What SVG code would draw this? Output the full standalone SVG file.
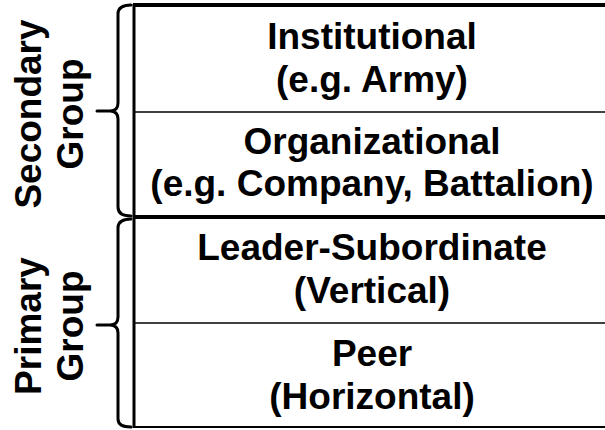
<svg xmlns="http://www.w3.org/2000/svg" width="605" height="430" viewBox="0 0 605 430">
<style>
.t{font-family:"Liberation Sans",Arial,sans-serif;font-weight:bold;font-size:37px;fill:#000;text-anchor:middle}
.thick{stroke:#000;stroke-width:4;fill:none}
.thin{stroke:#000;stroke-width:1.5;fill:none}
.brace{stroke:#000;stroke-width:3;fill:none;stroke-linecap:round;stroke-linejoin:round}
</style>
<rect width="605" height="430" fill="#fff"/>
<g id="connectors">
<path class="brace" d="M131,5 Q118,5 118,14 L118,103 Q118,111 110,111 L97,111 M110,111 Q118,111 118,119 L118,207 Q118,216 131,216"/>
<path class="brace" d="M131,219 Q118,219 118,228 L118,317 Q118,325 110,325 L97,325 M110,325 Q118,325 118,333 L118,419 Q118,427 131,427"/>
</g>
<g id="table">
<line class="thick" x1="133" y1="5" x2="605" y2="5"/>
<line class="thin" x1="134" y1="112" x2="605" y2="112"/>
<line class="thick" x1="133" y1="217" x2="605" y2="217"/>
<line class="thin" x1="134" y1="323" x2="605" y2="323"/>
<line x1="133" y1="427" x2="605" y2="427" stroke="#000" stroke-width="2"/>
<line x1="134" y1="4" x2="134" y2="428" stroke="#000" stroke-width="3"/>
</g>
<g id="institutional"><text class="t" x="372" y="49">Institutional</text><text class="t" x="372" y="92">(e.g. Army)</text></g>
<g id="organizational"><text class="t" x="372" y="154">Organizational</text><text class="t" x="372" y="196">(e.g. Company, Battalion)</text></g>
<g id="leader"><text class="t" x="372" y="260">Leader-Subordinate</text><text class="t" x="372" y="303">(Vertical)</text></g>
<g id="peer"><text class="t" x="372" y="366">Peer</text><text class="t" x="372" y="409">(Horizontal)</text></g>
<g id="secondary-group"><text class="t" transform="translate(41,114) rotate(-90)">Secondary</text><text class="t" transform="translate(83,114) rotate(-90)">Group</text></g>
<g id="primary-group"><text class="t" transform="translate(41,326) rotate(-90)">Primary</text><text class="t" transform="translate(83,326) rotate(-90)">Group</text></g>
</svg>
